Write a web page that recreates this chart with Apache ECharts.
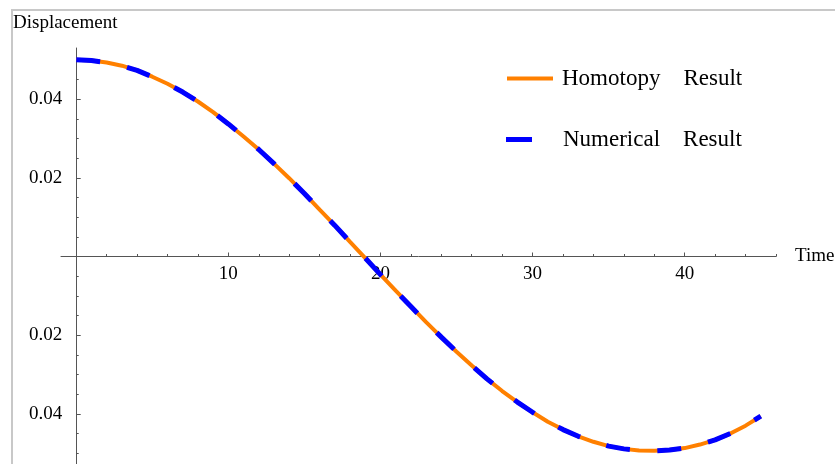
<!DOCTYPE html>
<html><head><meta charset="utf-8">
<script src="https://cdn.jsdelivr.net/npm/echarts@6/dist/echarts.min.js"></script>
<style>html,body{margin:0;padding:0;background:#fff}#c{width:835px;height:464px}</style>
</head><body><div id="c"></div>
<script>
const timeValues = [0,1,2,3,4,5,6,7,8,9,10,11,12,13,14,15,16,17,18,19,20,21,22,23,24,25,26,27,28,29,30,31,32,33,34,35,36,37,38,39,40,41,42,43,44,45];
const homotopyValues = [0.0500,0.0498,0.0493,0.0485,0.0473,0.0457,0.0439,0.0418,0.0394,0.0367,0.0337,0.0305,0.0272,0.0236,0.0199,0.0160,0.0119,0.0079,0.0037,-0.0004,-0.0046,-0.0087,-0.0127,-0.0167,-0.0205,-0.0242,-0.0277,-0.0311,-0.0342,-0.0370,-0.0396,-0.0420,-0.0440,-0.0457,-0.0471,-0.0482,-0.0489,-0.0493,-0.0494,-0.0492,-0.0487,-0.0478,-0.0466,-0.0450,-0.0430,-0.0406];
const numericalValues = [0.0500,0.0498,0.0493,0.0485,0.0473,0.0457,0.0439,0.0418,0.0394,0.0367,0.0337,0.0305,0.0272,0.0236,0.0199,0.0160,0.0119,0.0079,0.0037,-0.0004,-0.0046,-0.0087,-0.0127,-0.0167,-0.0205,-0.0242,-0.0277,-0.0311,-0.0342,-0.0370,-0.0396,-0.0420,-0.0440,-0.0457,-0.0471,-0.0482,-0.0489,-0.0493,-0.0494,-0.0492,-0.0487,-0.0478,-0.0466,-0.0450,-0.0430,-0.0406];
const xMajorTicks = [10,20,30,40];
const xMinorTicks = [2,4,6,8,12,14,16,18,22,24,26,28,32,34,36,38,42,44,46];
const yMajorTicks = [-0.04,-0.02,0.02,0.04];
const yMinorTicks = [-0.05,-0.045,-0.035,-0.03,-0.025,-0.015,-0.01,-0.005,0.005,0.01,0.015,0.025,0.03,0.035,0.045,0.05];
const seriesNames = ['Homotopy    Result','Numerical    Result'];

const FONT = 'Liberation Serif';
const AX = '#555';
// plot frame
const W = 835, H = 464;
const G = {left:61, right:59, top:48, bottom:-1};
const X_MIN = -1, X_MAX = 46, Y_MIN = -0.053, Y_MAX = 0.053;
const gw = W - G.left - G.right, gh = H - G.top - G.bottom;
// offsets that place the axes through the origin (axes cross at 0,0)
const yAxisOffset = -((0 - X_MIN) / (X_MAX - X_MIN) * gw);
const xAxisOffset = -((0 - Y_MIN) / (Y_MAX - Y_MIN) * gh);

const chart = echarts.init(document.getElementById('c'), null, {renderer:'canvas'});
const hom = timeValues.map((t,i)=>[t, homotopyValues[i]]);
const num = timeValues.map((t,i)=>[t, numericalValues[i]]);

function xAxisDef(ticks, len, major){
  return {
    type:'value', min:X_MIN, max:X_MAX, position:'bottom', gridIndex:0, offset:xAxisOffset,
    axisLine:{show:true, onZero:false, lineStyle:{color:AX, width:1, opacity: major?1:0}},
    axisTick:{show:true, inside:true, length:len, customValues:ticks, lineStyle:{color:AX, width:1}},
    axisLabel:{show:major, customValues:ticks, fontFamily:FONT, fontSize:19, color:'#000', margin:8},
    splitLine:{show:false},
    name: major ? 'Time' : '', nameLocation:'end', nameGap:19,
    nameTextStyle:{fontFamily:FONT, fontSize:19, color:'#000', verticalAlign:'middle'}
  };
}
function yAxisDef(ticks, len, major){
  return {
    type:'value', min:Y_MIN, max:Y_MAX, position:'left', gridIndex:0, offset:yAxisOffset,
    axisLine:{show:true, onZero:false, lineStyle:{color:AX, width:1, opacity: major?1:0}},
    axisTick:{show:true, inside:true, length:len, customValues:ticks, lineStyle:{color:AX, width:1}},
    axisLabel:{show:major, customValues:ticks, fontFamily:FONT, fontSize:19, color:'#000', margin:14,
      formatter: v => Math.abs(v).toFixed(2)},
    splitLine:{show:false}
  };
}

chart.setOption({
  animation:false,
  backgroundColor:'#fff',
  title:{text:'Displacement', left:13, top:14, padding:0, textStyle:{fontFamily:FONT, fontSize:19, fontWeight:'normal', color:'#000'}},
  grid:{left:G.left, right:G.right, top:G.top, bottom:G.bottom, containLabel:false, outerBoundsMode:'none'},
  xAxis:[xAxisDef(xMajorTicks,4,true), xAxisDef(xMinorTicks,2.5,false)],
  yAxis:[yAxisDef(yMajorTicks,4.5,true), yAxisDef(yMinorTicks,2.5,false)],
  legend:[
    {data:[seriesNames[0]], left:502, top:62, icon:'rect', itemWidth:46, itemHeight:4, selectedMode:false,
     textStyle:{fontFamily:FONT, fontSize:23, color:'#000', padding:[0,0,0,4]}},
    {data:[seriesNames[1]], left:501, top:123, icon:'rect', itemWidth:26, itemHeight:5, selectedMode:false,
     textStyle:{fontFamily:FONT, fontSize:23, color:'#000', padding:[0,0,0,26]}}
  ],
  graphic:[{type:'polyline', silent:true, z:-1, shape:{points:[[12,470],[12,10],[840,10]]},
    style:{stroke:'#c8c8c8', lineWidth:2, fill:null}}],
  series:[
    {name:seriesNames[0], type:'line', data:hom, xAxisIndex:0, yAxisIndex:0, showSymbol:false, symbol:'none',
     color:'#ff8000', lineStyle:{color:'#ff8000', width:4}, z:2},
    {name:seriesNames[1], type:'line', data:num, xAxisIndex:0, yAxisIndex:0, showSymbol:false, symbol:'none',
     color:'#0000ff', lineStyle:{color:'#0000ff', width:5, type:[24,27.5], dashOffset:0, cap:'butt'}, z:3}
  ]
});
</script></body></html>
